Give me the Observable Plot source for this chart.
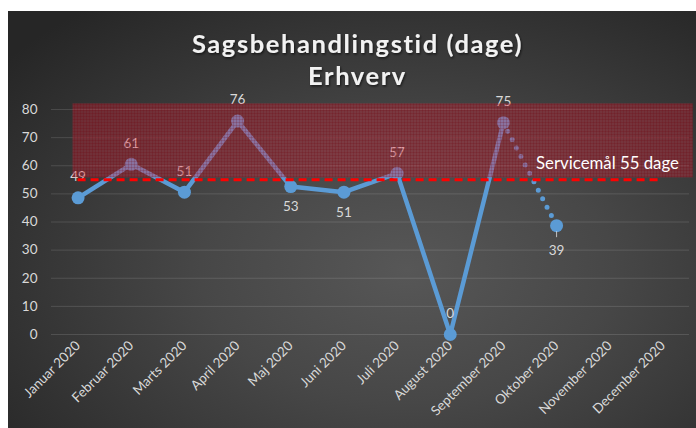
<!DOCTYPE html>
<html>
<head>
<meta charset="utf-8">
<script src="https://cdn.jsdelivr.net/npm/d3@7"></script>
<script src="https://cdn.jsdelivr.net/npm/@observablehq/plot@0.6"></script>
<style>
  html, body { margin: 0; padding: 0; background: #ffffff; }
  #chart { position: absolute; left: 8px; top: 11px; }
</style>
</head>
<body>
<div id="chart"></div>
<script>
const months = ["Januar 2020", "Februar 2020", "Marts 2020", "April 2020", "Maj 2020", "Juni 2020",
  "Juli 2020", "August 2020", "September 2020", "Oktober 2020", "November 2020", "December 2020"];
const values = [48.6, 60.5, 50.6, 75.9, 52.6, 50.6, 57.3, 0, 75.3, 38.7];
const labelSide = ["top", "top", "top", "top", "bottom", "bottom", "top", "top", "top", "leader"];
const yTicks = [0, 10, 20, 30, 40, 50, 60, 70, 80];
const serviceGoal = 55;
const bandLow = 55.7;
const bandHigh = 82;
const goalLabel = "Servicemål 55 dage";
const titleLine1 = "Sagsbehandlingstid (dage)";
const titleLine2 = "Erhverv";

const rows = values.map((v, i) => ({i, month: months[i], value: v, label: Math.round(v), side: labelSide[i]}));
const solid = rows.slice(0, 9);
const dotted = rows.slice(8, 10);

const blue = "#5b9bd5";
const txt = "#d9d9d9";

const chart = Plot.plot({
  width: 688,
  height: 417,
  marginLeft: 43,
  marginRight: 7,
  marginTop: 98,
  marginBottom: 94,
  style: {
    background: "radial-gradient(ellipse 75% 80% at 58% 62%, #575757 0%, #474747 40%, #313131 80%, #262626 100%)",
    color: txt,
    fontFamily: "Lato, 'Open Sans', sans-serif",
    overflow: "visible"
  },
  x: {type: "linear", domain: [-0.5, 11.5]},
  y: {domain: [0, 80]},
  marks: [
    Plot.gridY(yTicks, {stroke: "#ffffff", strokeOpacity: 0.13, strokeWidth: 1}),
    Plot.axisY(yTicks, {tickSize: 0, tickPadding: 14, fontSize: 13.5, fill: txt, label: null}),
    Plot.axisX(d3.range(12), {tickFormat: i => months[i], tickRotate: -45, tickSize: 0, tickPadding: 9, fontSize: 13.5, fill: txt, label: null}),
    Plot.line(solid, {x: "i", y: "value", stroke: blue, strokeWidth: 4.5}),
    Plot.line(dotted, {x: "i", y: "value", stroke: blue, strokeWidth: 5, strokeDasharray: "0,9.5", strokeLinecap: "round"}),
    Plot.dot(rows, {x: "i", y: "value", r: 6.5, fill: blue, stroke: null}),
    Plot.ruleX(rows.filter(d => d.side === "leader"), {x: "i", y1: "value", y2: "value", insetTop: 6, insetBottom: -12, stroke: "#e0e0e0", strokeWidth: 0.8}),
    Plot.text(rows.filter(d => d.side === "top"), {x: "i", y: "value", text: "label", dy: -21, fontSize: 13.5, fill: txt}),
    Plot.text(rows.filter(d => d.side === "bottom"), {x: "i", y: "value", text: "label", dy: 20, fontSize: 13.5, fill: txt}),
    Plot.text(rows.filter(d => d.side === "leader"), {x: "i", y: "value", text: "label", dy: 25, fontSize: 13.5, fill: txt}),
    Plot.rect([{}], {x1: -0.095, x2: 11.57, y1: bandLow, y2: bandHigh, fill: "url(#hatch)"}),
    Plot.ruleY([serviceGoal], {x1: 0, x2: 11, stroke: "#ff0000", strokeWidth: 3, strokeDasharray: "8,5"}),
    Plot.text([goalLabel], {x: 11.3, y: 60.8, textAnchor: "end", fill: "#ffffff", fontSize: 16.8}),
    Plot.text([titleLine1], {frameAnchor: "top", dx: -13, dy: -75, fontSize: 25.5, fontWeight: "bold", fill: "#f2f2f2"}),
    Plot.text([titleLine2], {frameAnchor: "top", dx: -13, dy: -43, fontSize: 25.5, fontWeight: "bold", fill: "#f2f2f2"})
  ]
});

// hatch pattern for the service band
const ns = "http://www.w3.org/2000/svg";
const defs = document.createElementNS(ns, "defs");
defs.innerHTML = `
  <pattern id="hatch" width="3" height="3" patternUnits="userSpaceOnUse">
    <rect width="3" height="3" fill="rgba(225,35,60,0.34)"></rect>
    <path d="M0 0.5H3M0.5 0V3" stroke="rgba(110,0,10,0.18)" stroke-width="1"></path>
  </pattern>
  <filter id="tshadow" x="-10%" y="-30%" width="120%" height="160%">
    <feDropShadow dx="1" dy="1.5" stdDeviation="1.2" flood-color="#000" flood-opacity="0.6"></feDropShadow>
  </filter>`;
chart.insertBefore(defs, chart.firstChild);
d3.select(chart).selectAll("text").filter(function() {
  const t = this.textContent;
  return t === titleLine1 || t === titleLine2;
}).attr("letter-spacing", "1.6px").attr("filter", "url(#tshadow)");

document.getElementById("chart").appendChild(chart);
</script>
</body>
</html>
